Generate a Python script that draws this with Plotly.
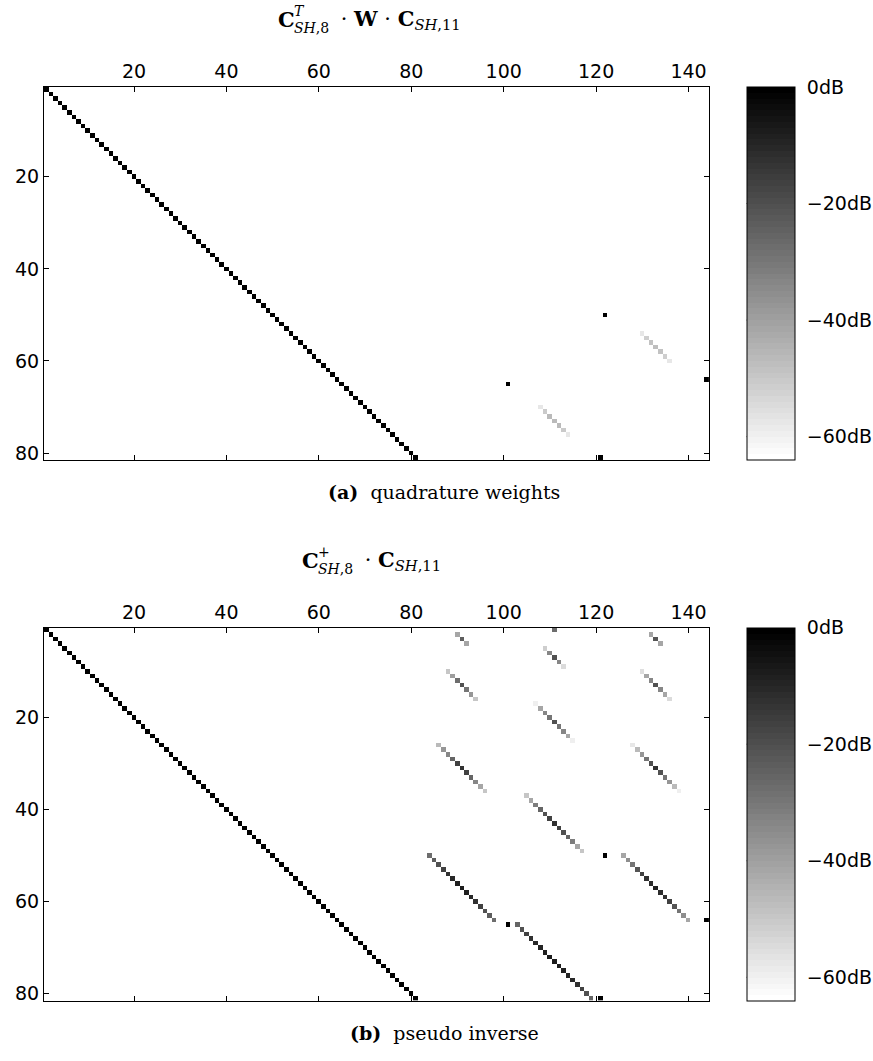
import numpy as np
import plotly.graph_objects as go

# ---- matrix size: rows = (8+1)^2 SH coefficients, cols = (11+1)^2 ----
N_ROWS = 81
N_COLS = 144
FLOOR_DB = -100.0          # "empty" entries, below the colour range
IDENTITY_DB = 0.0          # diagonal of the identity block
AZIMUTH_ALIAS_DB = 0.0     # strong m <-> 18-m aliasing entries

# azimuthal aliasing (row, col) pairs, 1-based, present in both matrices
azimuth_alias_cells = [(50, 122), (64, 144), (65, 101), (81, 121)]

# (a) quadrature weights: order-aliasing, values in dB for m = -3..3
a_n7_n11 = [-58, -52, -49, -48, -49, -52, -58]
a_n8_n10 = [-58, -51, -47, -47, -47, -51, -58]

# (b) pseudo inverse: order-aliasing, values in dB for m = -n..n
b_n0_n10 = [-28]
b_n1_n9 = [-42, -24, -42]
b_n1_n11 = [-42, -22, -42]
b_n2_n10 = [-52, -34, -21, -34, -55]
b_n3_n9 = [-50, -40, -28, -21, -30, -38, -50]
b_n3_n11 = [-56, -42, -34, -21, -34, -42, -55]
b_n4_n10 = [-60, -42, -34, -30, -21, -30, -34, -42, -60]
b_n5_n9 = [-47, -38, -34, -26, -17, -13, -17, -26, -34, -42, -50]
b_n5_n11 = [-58, -47, -38, -30, -21, -13, -21, -30, -38, -47, -60]
b_n6_n10 = [-50, -42, -32, -26, -21, -17, -13, -17, -21, -26, -32, -42, -50]
b_n7_n9 = [-28, -24, -21, -17, -13, -11, -9, -8, -9, -11, -13, -17, -21, -24, -28]
b_n7_n11 = [-42, -36, -30, -22, -17, -13, -12, -9, -12, -13, -17, -22, -30, -36, -42]
b_n8_n10 = [-26, -21, -17, -13, -11, -10, -9, -8, -8, -8, -9, -10, -11, -13, -17, -21, -26]

x_ticks = [20, 40, 60, 80, 100, 120, 140]
y_ticks = [20, 40, 60, 80]
cbar_ticks = [0, -20, -40, -60]
cbar_labels = ["0dB", "\u221220dB", "\u221240dB", "\u221260dB"]
Z_MIN, Z_MAX = -64.0, 0.0


def sh_index(n, m):
    """0-based linear index of SH coefficient (n, m)."""
    return n * n + n + m


def base_matrix():
    z = np.full((N_ROWS, N_COLS), FLOOR_DB)
    for i in range(N_ROWS):
        z[i, i] = IDENTITY_DB
    for r, c in azimuth_alias_cells:
        z[r - 1, c - 1] = AZIMUTH_ALIAS_DB
    return z


def put_alias(z, n, n_alias, values):
    half = (len(values) - 1) // 2
    for k, v in enumerate(values):
        m = k - half
        z[sh_index(n, m), sh_index(n_alias, m)] = v


z_a = base_matrix()
put_alias(z_a, 7, 11, a_n7_n11)
put_alias(z_a, 8, 10, a_n8_n10)

z_b = base_matrix()
for n, na, vals in [(0, 10, b_n0_n10), (1, 9, b_n1_n9), (1, 11, b_n1_n11),
                    (2, 10, b_n2_n10), (3, 9, b_n3_n9), (3, 11, b_n3_n11),
                    (4, 10, b_n4_n10), (5, 9, b_n5_n9), (5, 11, b_n5_n11),
                    (6, 10, b_n6_n10), (7, 9, b_n7_n9), (7, 11, b_n7_n11),
                    (8, 10, b_n8_n10)]:
    put_alias(z_b, n, na, vals)

# 64-level inverted gray colormap (white = low, black = high)
levels = 64
colorscale = []
for k in range(levels):
    g = int(round(255 * (1 - k / (levels - 1))))
    col = f"rgb({g},{g},{g})"
    colorscale.append([k / levels, col])
    colorscale.append([(k + 1) / levels, col])

W, H = 873, 1061


def px(x):
    return x / W


def py(y):
    return 1 - y / H


X0, X1 = 43.9, 709.3
PANELS = [(87.3, 461.7), (630.0, 1004.4)]
CB_X0, CB_X1 = 746.7, 795.0
CB_TICK = 4

sans = dict(family="DejaVu Sans", size=19, color="black")

cols = np.arange(1, N_COLS + 1)
rows = np.arange(1, N_ROWS + 1)

fig = go.Figure()
shapes = []
for idx, (z, (ytop, ybot)) in enumerate(zip([z_a, z_b], PANELS)):
    sfx = "" if idx == 0 else "2"
    fig.add_trace(go.Heatmap(
        z=z, x=cols, y=rows,
        zmin=Z_MIN, zmax=Z_MAX, colorscale=colorscale,
        xaxis="x" + sfx, yaxis="y" + sfx, hoverinfo="skip",
        colorbar=dict(
            x=px(CB_X0), xanchor="left", xpad=0, ypad=0,
            y=py((ytop + ybot) / 2), yanchor="middle",
            len=(ybot - ytop) / H, lenmode="fraction",
            thickness=CB_X1 - CB_X0, thicknessmode="pixels",
            outlinewidth=1, outlinecolor="black",
            tickvals=cbar_ticks, ticktext=cbar_labels,
            ticks="outside", ticklen=8, tickcolor="rgba(0,0,0,0)",
            tickfont=sans,
        ),
    ))
    # small inward tick marks on both edges of the colour bar
    for v in cbar_ticks[1:]:
        yv = ytop + (Z_MAX - v) / (Z_MAX - Z_MIN) * (ybot - ytop)
        for xa, xb in [(CB_X0, CB_X0 + CB_TICK), (CB_X1 - CB_TICK, CB_X1)]:
            shapes.append(dict(type="line", xref="paper", yref="paper",
                               x0=px(xa), x1=px(xb), y0=py(yv), y1=py(yv),
                               line=dict(color="black", width=1)))
    axis_common = dict(showline=True, linecolor="black", linewidth=1,
                       mirror="ticks", ticks="inside", ticklen=5,
                       tickcolor="black", showgrid=False, zeroline=False,
                       tickfont=sans)
    fig.update_layout(**{
        "xaxis" + sfx: dict(domain=[px(X0), px(X1)], range=[0.5, N_COLS + 0.5],
                            side="top", tickvals=x_ticks,
                            anchor="y" + sfx, **axis_common),
        "yaxis" + sfx: dict(domain=[py(ybot), py(ytop)],
                            range=[N_ROWS + 0.5, 0.5], tickvals=y_ticks,
                            anchor="x" + sfx, **axis_common),
    })

MATH = "DejaVu Serif"
big = dict(family=MATH, size=21, color="black")
small = dict(family=MATH, size=14, color="black")


def math_title(x0, yc, sup, tail):
    """Bold C with stacked super/subscript, followed by the rest."""
    return [
        dict(text="<b>C</b>", x=px(x0), y=py(yc), font=big),
        dict(text=sup, x=px(x0 + 16), y=py(yc - 9), font=small),
        dict(text="<i>SH</i>,8", x=px(x0 + 16), y=py(yc + 8), font=small),
        dict(text=tail, x=px(x0 + 56), y=py(yc), font=big),
    ]


annotations = []
annotations += math_title(
    276, 20, "<i>T</i>",
    "\u00a0\u00b7\u00a0<b>W</b>\u00a0\u00b7\u00a0<b>C</b><sub><i>SH</i>,11</sub>")
annotations += math_title(
    300, 563, "+",
    "\u00a0\u00b7\u00a0<b>C</b><sub><i>SH</i>,11</sub>")
for a in annotations:
    a.update(xanchor="left")

cap = dict(family="DejaVu Serif", size=19, color="black")
annotations += [
    dict(text="<b>(a)</b>\u00a0 quadrature weights", x=px(444), y=py(494),
         font=cap, xanchor="center"),
    dict(text="<b>(b)</b>\u00a0 pseudo inverse", x=px(444), y=py(1037),
         font=cap, xanchor="center"),
]
for a in annotations:
    a.update(xref="paper", yref="paper", showarrow=False, yanchor="middle")

fig.update_layout(width=W, height=H, margin=dict(l=0, r=0, t=0, b=0),
                  paper_bgcolor="white", plot_bgcolor="white",
                  annotations=annotations, shapes=shapes, showlegend=False)

fig.write_html("out.html")
